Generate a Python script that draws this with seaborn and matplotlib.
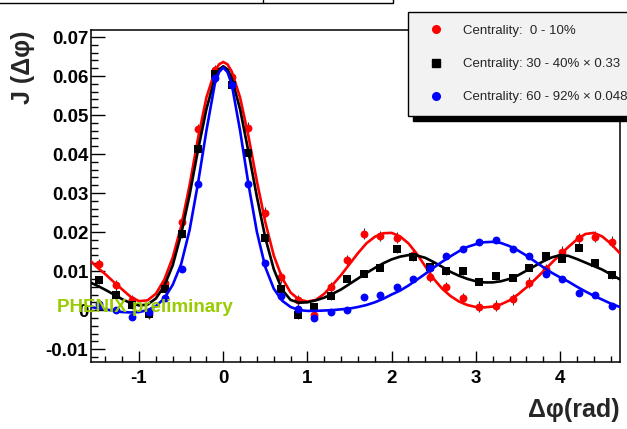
import numpy as np
import pandas as pd
import matplotlib
matplotlib.use('Agg')
import matplotlib.pyplot as plt
from matplotlib.patches import Rectangle
from matplotlib.lines import Line2D
import seaborn as sns

# bin centres of the delta-phi histogram (rad)
bin_x = [-1.473, -1.276, -1.080, -0.884, -0.687, -0.491, -0.295, -0.098,
         0.098, 0.295, 0.491, 0.687, 0.884, 1.080, 1.276, 1.473,
         1.669, 1.865, 2.062, 2.258, 2.454, 2.651, 2.847, 3.043,
         3.240, 3.436, 3.632, 3.829, 4.025, 4.221, 4.418, 4.614]

red_y = [0.0118, 0.0064, 0.0025, -0.0010, 0.0070, 0.0226, 0.0463, 0.0615,
         0.0598, 0.0467, 0.0250, 0.0084, 0.0025, -0.0012, 0.0058, 0.0128,
         0.0196, 0.0190, 0.0186, 0.0140, 0.0085, 0.0058, 0.0030, 0.0009,
         0.0011, 0.0028, 0.0070, 0.0105, 0.0150, 0.0184, 0.0188, 0.0175]
black_y = [0.0077, 0.0038, 0.0012, -0.0010, 0.0054, 0.0195, 0.0413, 0.0605,
           0.0576, 0.0402, 0.0186, 0.0054, -0.0013, 0.0008, 0.0036, 0.0080,
           0.0093, 0.0109, 0.0156, 0.0137, 0.0110, 0.0100, 0.0100, 0.0073,
           0.0087, 0.0083, 0.0109, 0.0138, 0.0132, 0.0160, 0.0120, 0.0090]
blue_y = [0.0015, 0.0000, -0.0017, -0.0005, 0.0030, 0.0106, 0.0323, 0.0596,
          0.0578, 0.0322, 0.0121, 0.0036, 0.0004, -0.0019, -0.0006, 0.0000,
          0.0033, 0.0038, 0.0060, 0.0080, 0.0107, 0.0138, 0.0156, 0.0175,
          0.0180, 0.0156, 0.0139, 0.0092, 0.0079, 0.0043, 0.0040, 0.0010]
red_err = 0.0014
black_err = 0.0009
blue_err = 0.0006

# fit curves, sampled off the figure
curve_x = [-1.57, -1.5, -1.4, -1.3, -1.2, -1.1, -1.0, -0.9, -0.8, -0.7, -0.6,
           -0.5, -0.4, -0.3, -0.2, -0.1, -0.05, 0.0, 0.05, 0.1, 0.2, 0.3,
           0.4, 0.5, 0.6, 0.7, 0.8, 0.9, 1.0, 1.1, 1.2, 1.3, 1.4, 1.5, 1.6,
           1.7, 1.8, 1.9, 2.0, 2.1, 2.2, 2.3, 2.4, 2.5, 2.6, 2.7, 2.8, 2.9,
           3.0, 3.1, 3.2, 3.3, 3.4, 3.5, 3.6, 3.7, 3.8, 3.9, 4.0, 4.1, 4.2,
           4.3, 4.4, 4.5, 4.6, 4.71]
red_fit = [0.0125, 0.0110, 0.0092, 0.0072, 0.0053, 0.0034, 0.0023, 0.0025,
           0.0042, 0.0078, 0.0135, 0.0215, 0.0320, 0.0440, 0.0545, 0.0612,
           0.0630, 0.0636, 0.0630, 0.0612, 0.0545, 0.0445, 0.0330, 0.0225,
           0.0140, 0.0082, 0.0045, 0.0027, 0.0022, 0.0026, 0.0042, 0.0065,
           0.0090, 0.0118, 0.0146, 0.0171, 0.0188, 0.0197, 0.0198, 0.0189,
           0.0171, 0.0144, 0.0112, 0.0080, 0.0055, 0.0036, 0.0022, 0.0013,
           0.0008, 0.0007, 0.0009, 0.0015, 0.0025, 0.0040, 0.0058, 0.0078,
           0.0099, 0.0121, 0.0142, 0.0162, 0.0181, 0.0195, 0.0198, 0.0189,
           0.0171, 0.0146]
black_fit = [0.0070, 0.0063, 0.0052, 0.0040, 0.0028, 0.0018, 0.0012, 0.0014,
             0.0030, 0.0062, 0.0115, 0.0195, 0.0295, 0.0410, 0.0515, 0.0595,
             0.0617, 0.0625, 0.0617, 0.0595, 0.0515, 0.0405, 0.0290, 0.0185,
             0.0105, 0.0052, 0.0026, 0.0019, 0.0020, 0.0025, 0.0032, 0.0042,
             0.0053, 0.0067, 0.0081, 0.0095, 0.0108, 0.0120, 0.0130, 0.0137,
             0.0141, 0.0140, 0.0134, 0.0123, 0.0111, 0.0098, 0.0088, 0.0080,
             0.0074, 0.0071, 0.0071, 0.0074, 0.0080, 0.0089, 0.0101, 0.0113,
             0.0125, 0.0135, 0.0141, 0.0139, 0.0131, 0.0122, 0.0113, 0.0104,
             0.0092, 0.0079]
blue_fit = [0.0008, 0.0005, 0.0002, -0.0002, -0.0005, -0.0006, -0.0005, 0.0000,
            0.0010, 0.0030, 0.0065, 0.0118, 0.0205, 0.0325, 0.0460, 0.0580,
            0.0610, 0.0622, 0.0610, 0.0580, 0.0460, 0.0322, 0.0200, 0.0110,
            0.0055, 0.0024, 0.0008, 0.0000, -0.0002, -0.0002, -0.0001, 0.0000,
            0.0002, 0.0004, 0.0008, 0.0013, 0.0020, 0.0029, 0.0040, 0.0050,
            0.0063, 0.0078, 0.0093, 0.0109, 0.0124, 0.0138, 0.0151, 0.0162,
            0.0169, 0.0174, 0.0175, 0.0172, 0.0164, 0.0153, 0.0140, 0.0125,
            0.0110, 0.0096, 0.0084, 0.0073, 0.0060, 0.0048, 0.0037, 0.0027,
            0.0017, 0.0008]

labels = ['Centrality:  0 - 10%',
          'Centrality: 30 - 40% \u00d7 0.33',
          'Centrality: 60 - 92% \u00d7 0.048']
xtick_vals = [-1, 0, 1, 2, 3, 4]
ytick_vals = [-0.01, 0.0, 0.01, 0.02, 0.03, 0.04, 0.05, 0.06, 0.07]
ytick_labels = ['-0.01', '0', '0.01', '0.02', '0.03', '0.04', '0.05', '0.06', '0.07']

sns.set_theme(style='ticks')
plt.rcParams['font.family'] = ['Liberation Sans', 'DejaVu Sans']

fig = plt.figure(figsize=(6.27, 4.29), dpi=100)
ax = fig.add_axes([91 / 627, 1 - 362 / 429, 529 / 627, 332 / 429])

series = [(red_y, red_err, red_fit, '#ff0000', 'o', 32),
          (black_y, black_err, black_fit, '#000000', 's', 38),
          (blue_y, blue_err, blue_fit, '#0000ff', 'o', 32)]
handles = []
for i, (ys, err, fit, col, mk, size) in enumerate(series):
    z = 3 + 3 * i
    ax.errorbar(bin_x, ys, yerr=err, fmt='none', ecolor='#333333',
                elinewidth=0.8, zorder=z)
    pts = pd.DataFrame({'x': bin_x, 'y': ys})
    sns.scatterplot(data=pts, x='x', y='y', ax=ax, color=col, marker=mk,
                    s=size, linewidth=0, zorder=z + 1)
    fitdf = pd.DataFrame({'x': curve_x, 'y': fit})
    sns.lineplot(data=fitdf, x='x', y='y', ax=ax, color=col, linewidth=1.9,
                 sort=False, zorder=z + 2)
    handles.append(Line2D([], [], linestyle='none', marker=mk, color=col,
                          markersize=5.5 if mk == 'o' else 6))

ax.set_xlim(-np.pi / 2, 3 * np.pi / 2)
ax.set_ylim(-0.0133, 0.0718)
ax.set_xticks(xtick_vals)
ax.set_xticklabels([str(v) for v in xtick_vals])
ax.set_yticks(ytick_vals)
ax.set_yticklabels(ytick_labels)
ax.set_xticks(np.arange(-1.4, 4.75, 0.2), minor=True)
ax.set_yticks(np.arange(-0.012, 0.0716, 0.002), minor=True)
ax.tick_params(axis='both', which='both', direction='in', top=False,
               right=False, colors='black', width=1.0)
ax.tick_params(axis='y', which='major', length=10, pad=2, labelsize=13.5)
ax.tick_params(axis='y', which='minor', length=5)
ax.tick_params(axis='x', which='major', length=8, pad=6, labelsize=13.5)
ax.tick_params(axis='x', which='minor', length=4)
for lab in ax.get_xticklabels() + ax.get_yticklabels():
    lab.set_fontweight('bold')
for sp in ax.spines.values():
    sp.set_visible(True)
    sp.set_color('black')
    sp.set_linewidth(1.1)

ax.set_xlabel('\u0394\u03c6(rad)', fontsize=18, fontweight='bold', loc='right')
ax.xaxis.set_label_coords(1.0, -0.108)
ax.set_ylabel('J (\u0394\u03c6)', fontsize=18, fontweight='bold', loc='top')
ax.yaxis.set_label_coords(-0.106, 1.0)

ax.text(-1.97, 0.0006, 'PHENIX preliminary', color='#99cc00', fontsize=13.5,
        fontweight='bold', ha='left', va='center', clip_on=False, zorder=20)

leg = ax.legend(handles, labels, loc='upper left',
                bbox_to_anchor=(408 / 627, 1 - 12 / 429),
                bbox_transform=fig.transFigure, fontsize=9.5, frameon=True,
                fancybox=False, edgecolor='black', facecolor='#f2f2f2',
                framealpha=1, borderpad=0.95, handlelength=2.3,
                handletextpad=0.95, labelspacing=1.6, borderaxespad=0,
                shadow={'color': 'black', 'alpha': 1, 'ox': 3.5, 'oy': -3.5})
leg.get_frame().set_linewidth(1.0)
leg.set_zorder(30)

# bottom edge of the cut-off title box
fig.patches.append(Rectangle((-0.01, 1 - 2.7 / 429), 393 / 627 + 0.01, 0.05,
                             transform=fig.transFigure, fill=False,
                             edgecolor='black', linewidth=1.0))
fig.lines.append(Line2D([263 / 627, 263 / 627], [1 - 2.7 / 429, 1],
                        transform=fig.transFigure, color='black', linewidth=1.0))

fig.savefig('out.png', dpi=100)
